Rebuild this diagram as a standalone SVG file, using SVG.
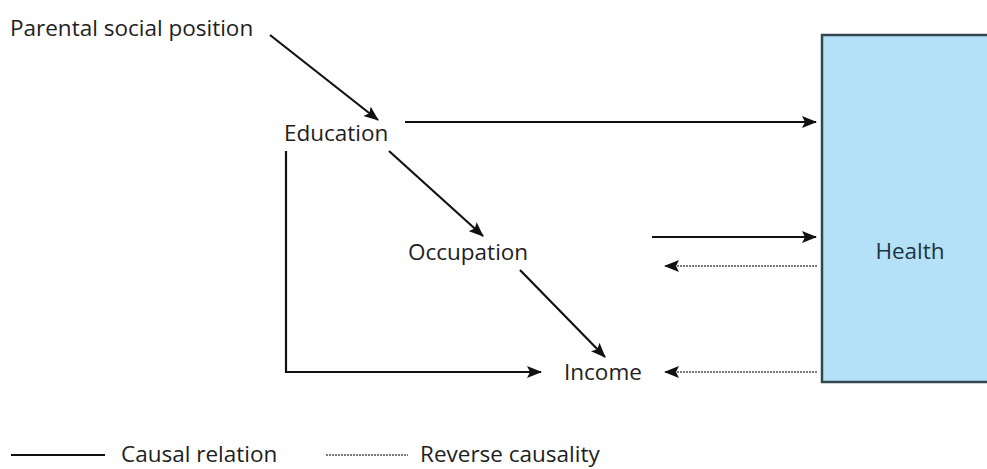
<svg xmlns="http://www.w3.org/2000/svg" width="987" height="469" viewBox="0 0 987 469">
<style>
text{font-family:"Open Sans","Liberation Sans",sans-serif;font-size:22.5px;fill:#1e1e1e}
.c{stroke:#111;stroke-width:2.2;fill:none}
.r{stroke:#7a7a7a;stroke-width:2.2;stroke-dasharray:2 1;fill:none}
</style>
<defs>
<marker id="ahr" markerWidth="15" markerHeight="12" refX="14" refY="6" orient="auto" markerUnits="userSpaceOnUse"><path d="M0,0 L15,6 L0,12 L3,6 Z" fill="#111"/></marker>
</defs>
<rect width="987" height="469" fill="#fff"/>
<g id="health"><rect x="822" y="35" width="170" height="347" fill="#b4e0f8" stroke="#34474f" stroke-width="2.5"/><text x="910" y="259" text-anchor="middle" style="fill:#1d3440">Health</text></g>
<g id="parental"><text x="10" y="36">Parental social position</text></g>
<g id="education"><text x="284" y="141">Education</text></g>
<g id="occupation"><text x="408" y="260">Occupation</text></g>
<g id="income"><text x="564" y="380">Income</text></g>
<g id="connectors">
<line class="c" x1="270" y1="35" x2="378" y2="120" marker-end="url(#ahr)"/>
<line class="c" x1="405" y1="122" x2="816" y2="122" marker-end="url(#ahr)"/>
<line class="c" x1="389" y1="151" x2="483" y2="236" marker-end="url(#ahr)"/>
<line class="c" x1="520" y1="270" x2="605" y2="357" marker-end="url(#ahr)"/>
<line class="c" x1="652" y1="237" x2="816" y2="237" marker-end="url(#ahr)"/>
<polyline class="c" points="286,151 286,372 541,372" marker-end="url(#ahr)"/>
<line class="r" x1="817" y1="266" x2="665" y2="266" marker-end="url(#ahr)"/>
<line class="r" x1="817" y1="372" x2="665" y2="372" marker-end="url(#ahr)"/>
</g>
<g id="legend">
<line class="c" x1="11" y1="455" x2="105" y2="455"/>
<text x="121" y="462">Causal relation</text>
<line class="r" x1="326" y1="455" x2="408" y2="455" style="stroke-width:1.8"/>
<text x="420" y="462">Reverse causality</text>
</g>
</svg>
